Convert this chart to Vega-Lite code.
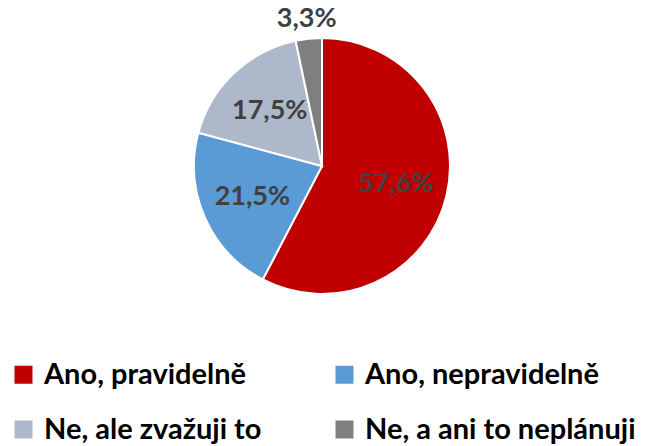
{
  "$schema": "https://vega.github.io/schema/vega-lite/v6.json",
  "width": 644,
  "height": 332,
  "padding": 0,
  "background": "white",
  "view": {"stroke": null},
  "data": {
    "values": [
      {"i": 1, "category": "Ano, pravidelně", "value": 57.6, "label": "57,6%"},
      {"i": 2, "category": "Ano, nepravidelně", "value": 21.5, "label": "21,5%"},
      {"i": 3, "category": "Ne, ale zvažuji to", "value": 17.5, "label": "17,5%"},
      {"i": 4, "category": "Ne, a ani to neplánuji", "value": 3.3, "label": "3,3%"}
    ]
  },
  "encoding": {
    "theta": {"field": "value", "type": "quantitative", "stack": true},
    "order": {"field": "i", "type": "quantitative"},
    "color": {
      "field": "category",
      "type": "nominal",
      "scale": {
        "domain": ["Ano, pravidelně", "Ano, nepravidelně", "Ne, ale zvažuji to", "Ne, a ani to neplánuji"],
        "range": ["#C00000", "#5B9BD5", "#ADB9CA", "#7F7F7F"]
      },
      "legend": {
        "title": null,
        "orient": "none",
        "legendX": 9,
        "legendY": 360,
        "direction": "horizontal",
        "columns": 2,
        "padding": 0,
        "symbolType": "square",
        "symbolSize": 324,
        "symbolStrokeWidth": 0,
        "symbolOpacity": 1,
        "labelFont": "Lato",
        "labelFontSize": 29,
        "labelFontWeight": "bold",
        "labelColor": "#000000",
        "labelLimit": 400,
        "labelOffset": 6,
        "columnPadding": 68,
        "rowPadding": 25
      }
    }
  },
  "layer": [
    {"mark": {"type": "arc", "outerRadius": 128, "stroke": "white", "strokeWidth": 2}},
    {
      "mark": {"type": "text", "radius": 76, "font": "Lato", "fontSize": 27, "fontWeight": "bold"},
      "encoding": {
        "text": {"condition": {"test": "datum.value >= 10", "field": "label"}, "value": ""},
        "color": {"value": "#404040"}
      }
    },
    {
      "mark": {"type": "text", "radius": 148, "font": "Lato", "fontSize": 27, "fontWeight": "bold"},
      "encoding": {
        "text": {"condition": {"test": "datum.value < 10", "field": "label"}, "value": ""},
        "color": {"value": "#404040"}
      }
    }
  ]
}
